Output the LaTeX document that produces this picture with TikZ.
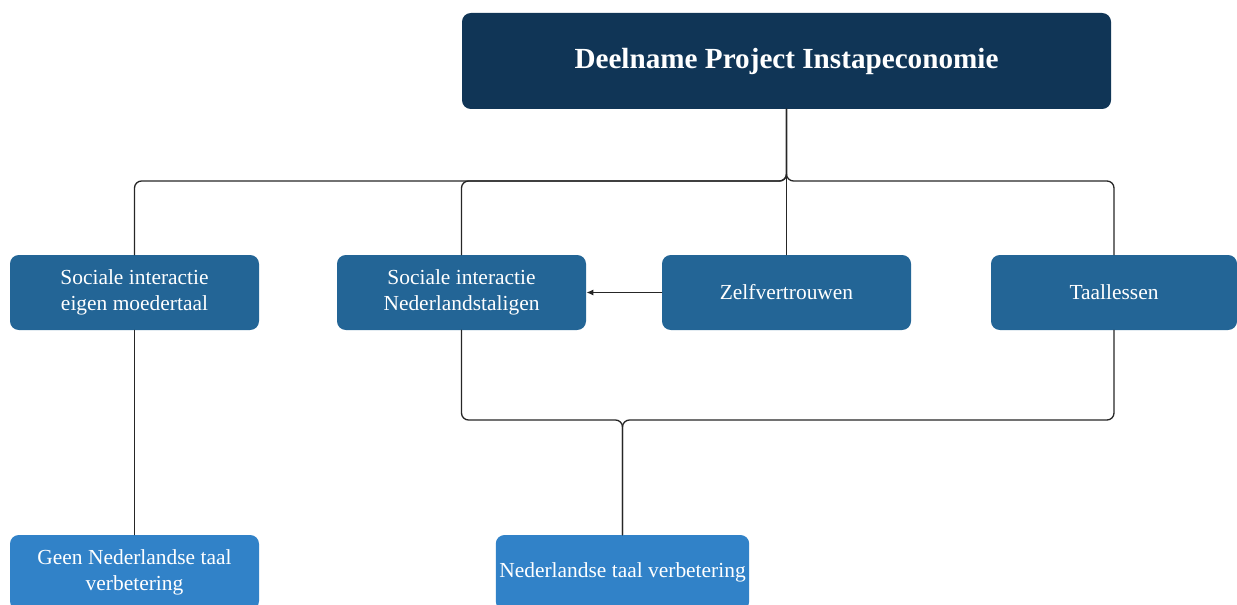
\documentclass[tikz,border=0pt]{standalone}
\usepackage{fontspec}
\setmainfont{Liberation Serif}
\usetikzlibrary{arrows.meta}
\definecolor{navy}{RGB}{16,53,86}
\definecolor{midblue}{RGB}{35,101,150}
\definecolor{lightblue}{RGB}{49,130,200}
\begin{document}
\begin{tikzpicture}[line cap=round, line join=round,
    box/.style={rounded corners=5pt, minimum width=4.98cm, minimum height=1.5cm,
      align=center, text=white, inner sep=2pt, font=\fontsize{12.2}{14.8}\selectfont},
    head/.style={box, fill=navy, minimum width=12.98cm, minimum height=1.92cm,
      font=\fontsize{16.6}{20}\selectfont\bfseries},
    mid/.style={box, fill=midblue},
    low/.style={box, fill=lightblue},
    conn/.style={line width=0.75pt, draw=black!85, rounded corners=4pt},
    arr/.style={line width=0.75pt, draw=black!85, -{Latex[length=4pt,width=3.5pt]}}]
  \useasboundingbox (0,0) rectangle (24.74,-12.10);
  \node[head] (top) at (15.73,-1.22) {Deelname Project Instapeconomie};
  \node[mid] (soceigen) at (2.69,-5.85) {Sociale interactie\\eigen moedertaal};
  \node[mid] (socned) at (9.23,-5.85) {Sociale interactie\\Nederlandstaligen};
  \node[mid] (zelf) at (15.73,-5.85) {Zelfvertrouwen};
  \node[mid, minimum width=4.92cm] (taal) at (22.28,-5.85) {Taallessen};
  \node[low] (geen) at (2.69,-11.45) {Geen Nederlandse taal\\verbetering};
  \node[low] (verb) at (12.45,-11.45) {Nederlandse taal verbetering};
  \coordinate (split) at (15.73,-3.62);
  \coordinate (merge) at (12.45,-8.40);
  \draw[conn] (top.south) -- (split) -| (soceigen.north);
  \draw[conn] (top.south) -- (split) -| (socned.north);
  \draw[conn] (top.south) -- (split) -| (taal.north);
  \draw[conn] (top.south) -- (zelf.north);
  \draw[arr] (zelf.west) -- (socned.east);
  \draw[conn] (soceigen.south) -- (geen.north);
  \draw[conn] (socned.south) |- (merge) -- (verb.north);
  \draw[conn] (taal.south) |- (merge) -- (verb.north);
\end{tikzpicture}
\end{document}
